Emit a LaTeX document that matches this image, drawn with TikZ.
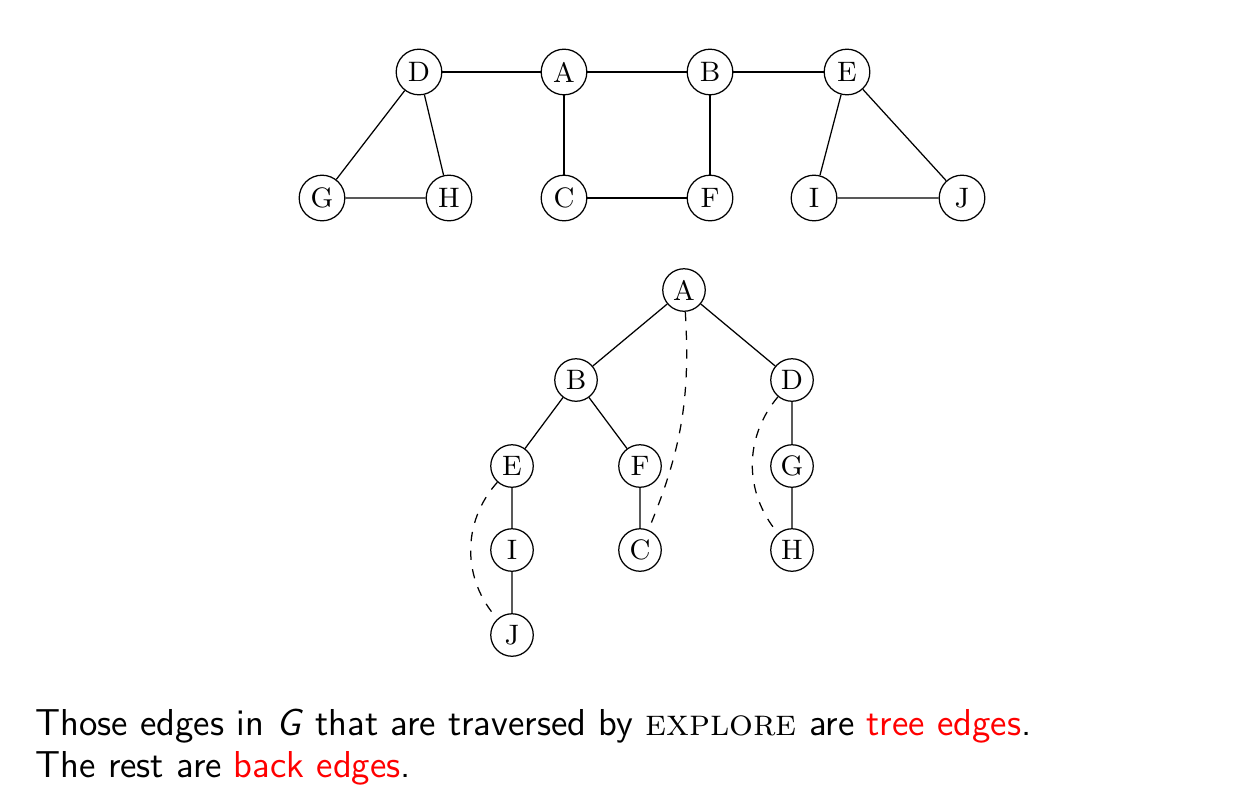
\documentclass[tikz,border=0pt]{standalone}
\usepackage{xcolor}

\begin{document}
\begin{tikzpicture}[x=0.32pt, y=-0.32pt, thin,
    vtx/.style={draw, circle, inner sep=0pt, minimum size=14.6pt, font=\fontsize{9}{11}\selectfont},
    tvtx/.style={vtx, minimum size=13.6pt},
    backedge/.style={dashed},
    caption/.style={anchor=base west, inner sep=0pt, font=\sffamily\fontsize{12}{13.5}\selectfont}]
    \useasboundingbox (0,0) rectangle (1259,793);
    % the graph G
    \node[vtx] (D) at (419,72) {D}; \node[vtx] (A) at (564,72) {A};
    \node[vtx] (B) at (710,72) {B}; \node[vtx] (E) at (847,72) {E};
    \node[vtx] (G) at (322,198) {G}; \node[vtx] (H) at (449,198) {H};
    \node[vtx] (C) at (564,198) {C}; \node[vtx] (F) at (710,198) {F};
    \node[vtx] (I) at (814,198) {I}; \node[vtx] (J) at (962,198) {J};
    \draw (D) -- (A) -- (B) -- (E);
    \draw (A) -- (C) -- (F) -- (B);
    \draw (D) -- (G) -- (H) -- (D);
    \draw (E) -- (I) -- (J) -- (E);
    % the tree found by explore
    \node[tvtx] (tA) at (684,290) {A};
    \node[tvtx] (tB) at (576,380) {B}; \node[tvtx] (tD) at (792,380) {D};
    \node[tvtx] (tE) at (512,466) {E}; \node[tvtx] (tF) at (640,466) {F}; \node[tvtx] (tG) at (792,466) {G};
    \node[tvtx] (tI) at (512,550) {I}; \node[tvtx] (tC) at (640,550) {C}; \node[tvtx] (tH) at (792,550) {H};
    \node[tvtx] (tJ) at (512,635) {J};
    \draw (tA) -- (tB) -- (tE) -- (tI) -- (tJ);
    \draw (tB) -- (tF) -- (tC);
    \draw (tA) -- (tD) -- (tG) -- (tH);
    \draw[backedge] (tE) to[bend right=42] (tJ);
    \draw[backedge] (tA) to[bend left=13] (tC);
    \draw[backedge] (tD) to[bend right=40] (tH);
    % caption
    \node[caption] (line1) at (35,735) {Those edges in \textit{G} that are traversed by \textrm{\textsc{explore}} are \textcolor{red}{tree edges}.};
    \node[caption] (line2) at (35,777) {The rest are \textcolor{red}{back edges}.};
\end{tikzpicture}
\end{document}
